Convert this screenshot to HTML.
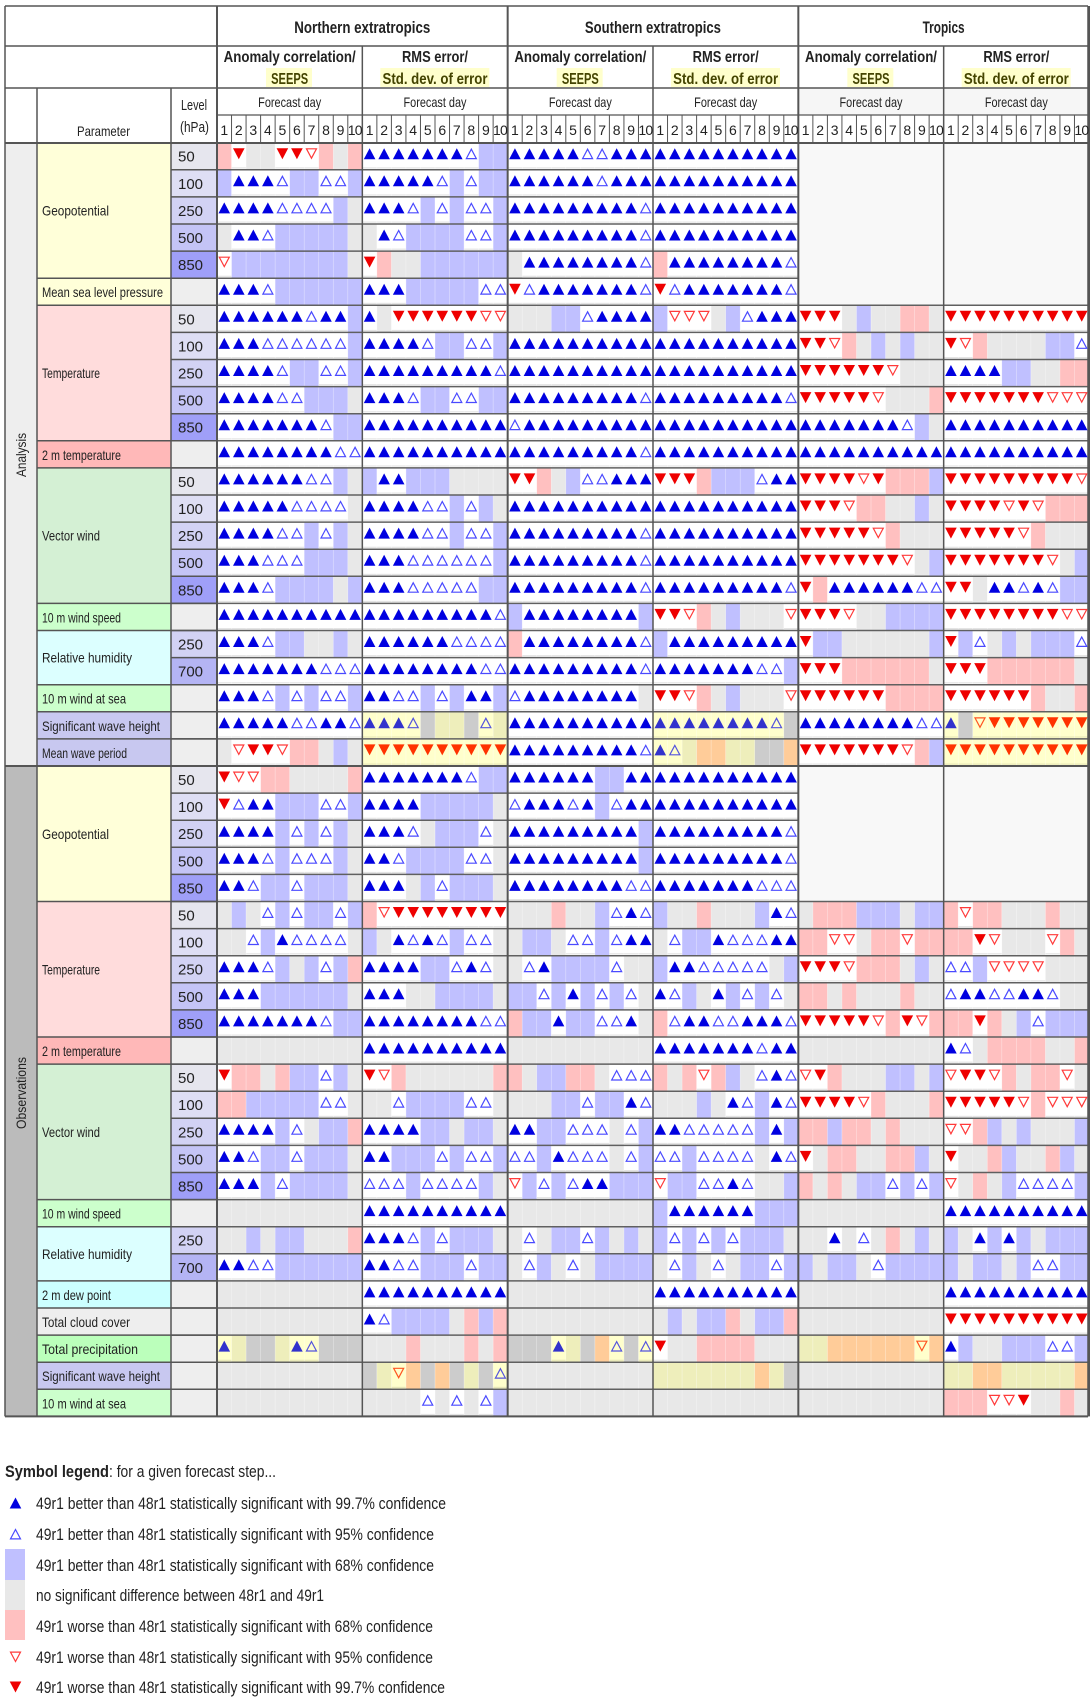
<!DOCTYPE html>
<html><head><meta charset="utf-8"><style>
html,body{margin:0;padding:0;background:#fff;}
svg{display:block;font-family:"Liberation Sans",sans-serif;}
</style></head><body>
<svg id="s" width="1090" height="1698" viewBox="0 0 1090 1698" xmlns="http://www.w3.org/2000/svg">
<g id="bg"></g>
<g id="lines"></g>
<g id="tri"></g>
<g id="txt" fill="#222">
<!-- region titles -->
<text x="362.3" y="33" font-size="17" font-weight="bold" text-anchor="middle" textLength="136" lengthAdjust="spacingAndGlyphs">Northern extratropics</text>
<text x="652.9" y="33" font-size="17" font-weight="bold" text-anchor="middle" textLength="136" lengthAdjust="spacingAndGlyphs">Southern extratropics</text>
<text x="943.6" y="33" font-size="17" font-weight="bold" text-anchor="middle" textLength="42" lengthAdjust="spacingAndGlyphs">Tropics</text>
<!-- block headers -->
<g id="bh0" transform="translate(217,0)">
<text x="72.67" y="62" font-size="16" font-weight="bold" text-anchor="middle" textLength="132" lengthAdjust="spacingAndGlyphs">Anomaly correlation/</text>
<text x="72.67" y="84" font-size="16" font-weight="bold" text-anchor="middle" fill="#444400" textLength="37" lengthAdjust="spacingAndGlyphs">SEEPS</text>
<text x="72.67" y="107" font-size="14" text-anchor="middle" textLength="63" lengthAdjust="spacingAndGlyphs">Forecast day</text>
<text x="7.27 21.8 36.33 50.87 65.4 79.93 94.47 109 123.53 134.6 141.6" y="135" font-size="14" text-anchor="middle">12345678910</text>
</g>
<g transform="translate(362.33,0)">
<text x="72.67" y="62" font-size="16" font-weight="bold" text-anchor="middle" textLength="66" lengthAdjust="spacingAndGlyphs">RMS error/</text>
<text x="72.67" y="84" font-size="16" font-weight="bold" text-anchor="middle" fill="#444400" textLength="105" lengthAdjust="spacingAndGlyphs">Std. dev. of error</text>
<text x="72.67" y="107" font-size="14" text-anchor="middle" textLength="63" lengthAdjust="spacingAndGlyphs">Forecast day</text>
<text x="7.27 21.8 36.33 50.87 65.4 79.93 94.47 109 123.53 134.6 141.6" y="135" font-size="14" text-anchor="middle">12345678910</text>
</g>
<g transform="translate(507.67,0)">
<text x="72.67" y="62" font-size="16" font-weight="bold" text-anchor="middle" textLength="132" lengthAdjust="spacingAndGlyphs">Anomaly correlation/</text>
<text x="72.67" y="84" font-size="16" font-weight="bold" text-anchor="middle" fill="#444400" textLength="37" lengthAdjust="spacingAndGlyphs">SEEPS</text>
<text x="72.67" y="107" font-size="14" text-anchor="middle" textLength="63" lengthAdjust="spacingAndGlyphs">Forecast day</text>
<text x="7.27 21.8 36.33 50.87 65.4 79.93 94.47 109 123.53 134.6 141.6" y="135" font-size="14" text-anchor="middle">12345678910</text>
</g>
<g transform="translate(653,0)">
<text x="72.67" y="62" font-size="16" font-weight="bold" text-anchor="middle" textLength="66" lengthAdjust="spacingAndGlyphs">RMS error/</text>
<text x="72.67" y="84" font-size="16" font-weight="bold" text-anchor="middle" fill="#444400" textLength="105" lengthAdjust="spacingAndGlyphs">Std. dev. of error</text>
<text x="72.67" y="107" font-size="14" text-anchor="middle" textLength="63" lengthAdjust="spacingAndGlyphs">Forecast day</text>
<text x="7.27 21.8 36.33 50.87 65.4 79.93 94.47 109 123.53 134.6 141.6" y="135" font-size="14" text-anchor="middle">12345678910</text>
</g>
<g transform="translate(798.33,0)">
<text x="72.67" y="62" font-size="16" font-weight="bold" text-anchor="middle" textLength="132" lengthAdjust="spacingAndGlyphs">Anomaly correlation/</text>
<text x="72.67" y="84" font-size="16" font-weight="bold" text-anchor="middle" fill="#444400" textLength="37" lengthAdjust="spacingAndGlyphs">SEEPS</text>
<text x="72.67" y="107" font-size="14" text-anchor="middle" textLength="63" lengthAdjust="spacingAndGlyphs">Forecast day</text>
<text x="7.27 21.8 36.33 50.87 65.4 79.93 94.47 109 123.53 134.6 141.6" y="135" font-size="14" text-anchor="middle">12345678910</text>
</g>
<g transform="translate(943.67,0)">
<text x="72.67" y="62" font-size="16" font-weight="bold" text-anchor="middle" textLength="66" lengthAdjust="spacingAndGlyphs">RMS error/</text>
<text x="72.67" y="84" font-size="16" font-weight="bold" text-anchor="middle" fill="#444400" textLength="105" lengthAdjust="spacingAndGlyphs">Std. dev. of error</text>
<text x="72.67" y="107" font-size="14" text-anchor="middle" textLength="63" lengthAdjust="spacingAndGlyphs">Forecast day</text>
<text x="7.27 21.8 36.33 50.87 65.4 79.93 94.47 109 123.53 134.6 141.6" y="135" font-size="14" text-anchor="middle">12345678910</text>
</g>
<!-- left header -->
<text x="77" y="136" font-size="14" textLength="53" lengthAdjust="spacingAndGlyphs">Parameter</text>
<text x="181" y="110" font-size="15" textLength="26" lengthAdjust="spacingAndGlyphs">Level</text>
<text x="180" y="132" font-size="15" textLength="29" lengthAdjust="spacingAndGlyphs">(hPa)</text>
<!-- side labels -->
<text transform="translate(26,455) rotate(-90)" font-size="14" text-anchor="middle" textLength="44" lengthAdjust="spacingAndGlyphs">Analysis</text>
<text transform="translate(26,1093) rotate(-90)" font-size="14" text-anchor="middle" textLength="72" lengthAdjust="spacingAndGlyphs">Observations</text>
<!-- params -->
<g font-size="14">
<text x="42" y="215.5" textLength="67" lengthAdjust="spacingAndGlyphs">Geopotential</text>
<text x="42" y="297.2" textLength="121" lengthAdjust="spacingAndGlyphs">Mean sea level pressure</text>
<text x="42" y="378" textLength="58" lengthAdjust="spacingAndGlyphs">Temperature</text>
<text x="42" y="459.8" textLength="79" lengthAdjust="spacingAndGlyphs">2 m temperature</text>
<text x="42" y="540.7" textLength="58" lengthAdjust="spacingAndGlyphs">Vector wind</text>
<text x="42" y="622.4" textLength="79" lengthAdjust="spacingAndGlyphs">10 m wind speed</text>
<text x="42" y="662.6" textLength="90" lengthAdjust="spacingAndGlyphs">Relative humidity</text>
<text x="42" y="703.7" textLength="84" lengthAdjust="spacingAndGlyphs">10 m wind at sea</text>
<text x="42" y="730.8" textLength="118" lengthAdjust="spacingAndGlyphs">Significant wave height</text>
<text x="42" y="757.9" textLength="85" lengthAdjust="spacingAndGlyphs">Mean wave period</text>
<text x="42" y="838.8" textLength="67" lengthAdjust="spacingAndGlyphs">Geopotential</text>
<text x="42" y="974.3" textLength="58" lengthAdjust="spacingAndGlyphs">Temperature</text>
<text x="42" y="1056" textLength="79" lengthAdjust="spacingAndGlyphs">2 m temperature</text>
<text x="42" y="1136.9" textLength="58" lengthAdjust="spacingAndGlyphs">Vector wind</text>
<text x="42" y="1218.6" textLength="79" lengthAdjust="spacingAndGlyphs">10 m wind speed</text>
<text x="42" y="1258.8" textLength="90" lengthAdjust="spacingAndGlyphs">Relative humidity</text>
<text x="42" y="1299.9" textLength="69" lengthAdjust="spacingAndGlyphs">2 m dew point</text>
<text x="42" y="1327" textLength="88" lengthAdjust="spacingAndGlyphs">Total cloud cover</text>
<text x="42" y="1354.1" textLength="96" lengthAdjust="spacingAndGlyphs">Total precipitation</text>
<text x="42" y="1381.2" textLength="118" lengthAdjust="spacingAndGlyphs">Significant wave height</text>
<text x="42" y="1408.3" textLength="84" lengthAdjust="spacingAndGlyphs">10 m wind at sea</text>
</g>
<!-- levels -->
<g font-size="15">
<text x="178" y="161.7">50</text><text x="178" y="188.8">100</text><text x="178" y="215.9">250</text><text x="178" y="243">500</text><text x="178" y="270.1">850</text>
<text x="178" y="324.3">50</text><text x="178" y="351.4">100</text><text x="178" y="378.5">250</text><text x="178" y="405.6">500</text><text x="178" y="432.7">850</text>
<text x="178" y="486.9">50</text><text x="178" y="514">100</text><text x="178" y="541.1">250</text><text x="178" y="568.2">500</text><text x="178" y="595.3">850</text>
<text x="178" y="649.5">250</text><text x="178" y="676.6">700</text>
<text x="178" y="785">50</text><text x="178" y="812.1">100</text><text x="178" y="839.2">250</text><text x="178" y="866.3">500</text><text x="178" y="893.4">850</text>
<text x="178" y="920.5">50</text><text x="178" y="947.6">100</text><text x="178" y="974.7">250</text><text x="178" y="1001.8">500</text><text x="178" y="1028.9">850</text>
<text x="178" y="1083.1">50</text><text x="178" y="1110.2">100</text><text x="178" y="1137.3">250</text><text x="178" y="1164.4">500</text><text x="178" y="1191.5">850</text>
<text x="178" y="1245.7">250</text><text x="178" y="1272.8">700</text>
</g>
<!-- legend -->
<g font-size="17">
<text x="5" y="1477" font-weight="bold" textLength="104" lengthAdjust="spacingAndGlyphs">Symbol legend</text>
<text x="109" y="1477" textLength="167" lengthAdjust="spacingAndGlyphs">: for a given forecast step...</text>
<text x="36" y="1509" textLength="410" lengthAdjust="spacingAndGlyphs">49r1 better than 48r1 statistically significant with 99.7% confidence</text>
<text x="36" y="1540" textLength="398" lengthAdjust="spacingAndGlyphs">49r1 better than 48r1 statistically significant with 95% confidence</text>
<text x="36" y="1571" textLength="398" lengthAdjust="spacingAndGlyphs">49r1 better than 48r1 statistically significant with 68% confidence</text>
<text x="36" y="1601" textLength="288" lengthAdjust="spacingAndGlyphs">no significant difference between 48r1 and 49r1</text>
<text x="36" y="1632" textLength="397" lengthAdjust="spacingAndGlyphs">49r1 worse than 48r1 statistically significant with 68% confidence</text>
<text x="36" y="1663" textLength="397" lengthAdjust="spacingAndGlyphs">49r1 worse than 48r1 statistically significant with 95% confidence</text>
<text x="36" y="1693" textLength="409" lengthAdjust="spacingAndGlyphs">49r1 worse than 48r1 statistically significant with 99.7% confidence</text>
</g>
</g>
</svg>
<script>
(function(){
var NS="http://www.w3.org/2000/svg";
var bg=document.getElementById("bg"),ln=document.getElementById("lines"),tr=document.getElementById("tri");
function el(p,t,a){var e=document.createElementNS(NS,t);for(var k in a)e.setAttribute(k,a[k]);p.appendChild(e);return e;}
function rect(x,y,w,h,f){el(bg,"rect",{x:x,y:y,width:w,height:h,fill:f});}
function line(x1,y1,x2,y2,w,c){el(ln,"line",{x1:x1,y1:y1,x2:x2,y2:y2,stroke:c||"#555","stroke-width":w||1.5});}
var X0=217,BW=145.333,CW=BW/10,Y0=142.7,RH=27.1;
function T(i){return Y0+RH*i;}
var D=[
"rVggVVvrgr AAAAAAAabb AAAAAaaAAA AAAAAAAAAA x x",
"bAAAabbaab AAAAAababb AAAAAAaAAA AAAAAAAAAA x x",
"AAAAaaaabg AAAababaab AAAAAAAAAa AAAAAAAAAA x x",
"gAAabbbbbg gAabbbbaab AAAAAAAAAa AAAAAAAAAA x x",
"vbbbbbbbbg Vrggbbbbbb gAAAAAAAAa rAAAAAAAAa x x",
"AAAabbbbbb AAAbbbbbaa VaAAAAAAAa VaAAAAAAAa x x",
"AAAAAAaAAb AgVVVVVVvv gggbbaAAAA bvvvgbaAAA VVVgbggrrg VVVVVVVVVV",
"AAAaaaaaab AAAAabbaab AAAAAAAAAA AAAAAAAAAA VVvrgbgbgg Vvrggggbba",
"AAAAabbaab AAAAAAAAAa AAAAAAAAAA AAAAAAAAAA VVVVVVvggg AAAAbbggrr",
"AAAAaabbbg AAAabbaabb AAAAAAAAAa AAAAAAAAAa VVVVVvgggr VVVVVVVvvv",
"AAAAAAAabb AAAAAAAAAA aAAAAAAAAA AAAAAAAAAA AAAAAAAabg AAAAAAAAAA",
"AAAAAAAAaa AAAAAAAAAA AAAAAAAAAa AAAAAAAAAA AAAAAAAAAA AAAAAAAAAA",
"AAAAAAaabg bAAbbbgggg VVrgbaaAAA VVVrbbbaAA VVVVvVrrrb VVVVVVVVVv",
"AAAAAaaaag AAAAaababg AAAAAAAAAA AAAAAAAAAA VVVvrrggbg VVVVvVvrrr",
"AAAAaababg AAAAaabaab AAAAAAAAAa AAAAAAAAAA VVVVVvrggg VVVVVvrggg",
"AAAaaabbbg AAAaaaaaab AAAAAAAAAa AAAAAAAAAA VVVVVVVvgb VVVVVVVvgb",
"AAAabbbbgb AAAaaaaabb AAAAAAAAAa AAAAAAAAAa VrAAAAAAaa VVgAAaAabb",
"AAAAAAAAAA AAAAAAAAAa bAAAAAAAAb VVvrgbgggv VVVvggbbbb VVVVVVVVvv",
"AAAabbggbg AAAAAAaaaa rAAAAAAAAa bAAAAAAAAA Vbbggggggb Vbagbgbbba",
"AAAAAAAaaa AAAAAAAAaa AAAAAAAAAa AAAAAAAaab VVVrrrrrrg VVVrrrrrrg",
"AAAababaab AAaababAAb aAAAAAAAAg VVvrgbgggv VVVVVVrrrr VVVVVVrggr",
"AAAAAaaAAa AAAagbbgab AAAAAAAAAA AAAAAAAAag AAAAAAAAaa AgvVVVVVVV",
"gvVVvrrgbg VVVVVVVVVV AAAAAAAAAa Aabrrbbggr VVVVVVVvrb VVVVVVVVVV",
"Vvvrrggggr AAAAAAAabb AAAAAAbbAA AAAAAAAAAA x x",
"VaAAbbbaab AAAAbbbbbg aAAAaAbaAA AAAAAAAAAA x x",
"AAAAbababg AAAagbbbag AAAAAAAAAb AAAAAAAAAa x x",
"AAAabaaabg AAabbbbaag AAAAAAAAAb AAAAAAAAAa x x",
"AAabbabbbg AAAgbabbbg AAAAAAAAaa AAAAAAAaaa x x",
"gbgababbab rvVVVVVVVV gggrggbaAa bggrgggbAa grrrbbbgbb rvrrgggrgg",
"ggabAaaaag bgAaAabaag gbbgaabaAA gabbAaaaAA rrvvgrrvrr rrVvgggvrg",
"AAAabgbabr AAAAbbaAag gaAbbbbagg bAAaaaaagb VVVvrrrgbg aabvvvvggg",
"AAAbbbbbbg AAAggbbbbg bbabAbabag AabgAbabag rrgrgggrgg aAAaaAAagg",
"AAAAAAAabb AAAAAAAAaa rbbAbbaaAg raAAaaAAAa VVVVVvrVvr rrVrgbabbb",
"gggggggggg AAAAAAAAAA gggggggggg AAAAAAAaAA gggggggggg Aagrrrrggr",
"Vrrgrbbabg Vvrggggggr rgbbrrgaaa rgrvrbgaAa vVrgggbbgb vVVvrgrrvg",
"rrbbbbbaag ggabbbbaag gggbbabbAa gggbgAabAa VVVVvrgggr VVVVVvrvvv",
"AAAAbagbbr AAAAbbgbbg AAbbaaagab AAaaaaabAb rrbrrgrggg vvrbgbgggb",
"AAabbabbbg AAbbbabaab aabAaaagab aabaaaagAa Vgrrggrrbg Vggrbggrbg",
"AAAbabbbbg aaabaaaabg vbabaAAbbb vbbaaAaggb rgrgbbabab vgrgbaaaab",
"gggggggggg AAAAAAAAAA gggggggggg bAAAAAAbbb gggggggggg AAAAAAAAAA",
"ggbgbbgggr AAAababbbg gagbbabgbg babababbbg ggAgagrgbg bgAbAbgbbb",
"AAaabbbbbb AAaabbbabb gabgagbbbb gabgagbbab bgbbgabbbb bgbbgbaabb",
"gggggggggg AAAAAAAAAA gggggggggg AAAAAAAAAA gggggggggg AAAAAAAAAA",
"gggggggggg Aabbbbgrbr gggggggggg gbgbbrgbbr gggggggggg VVVVVVVVVV",
"AbggbAaggg gggrgggrgr gggAbgraga Vggrrrrggg bbrrrrrrvr Abggbbbaab",
"gggggggggg gbvrgrgbga gggggggggg bbbbbbbrbg gggggggggg bbrrbbbbbr",
"gggggggggg ggggagagab gggggggggg gggggggggg gggggggggg rrrvvVggrg"
];
var YEL={21:[1,3,5],22:[1,3,5],45:[1,3,5],44:[0,2,4]};
var PN={w:"#ffffff",b:"#c0c0ff",g:"#e8e8e8",r:"#ffc0c0",A:"#0000e0",a:"#4a4aff",V:"#ee0000",v:"#ff3a3a"};
var PY={w:"#ffffcc",b:"#eeeebb",g:"#cccccc",r:"#ffcc99",A:"#3333cc",a:"#5555dd",V:"#ff3300",v:"#ff5522"};
function triangle(cx,top,c,pal){
  var up=(c=="A"||c=="a"),fill=(c=="A"||c=="V");
  var y1=top+5.5,y2=top+16.5,h=5.8;
  var pts=up?[[cx-h,y2],[cx+h,y2],[cx,y1]]:[[cx-h,y1],[cx+h,y1],[cx,y2]];
  if(!fill){var k=0.8;pts=up?[[cx-h+k,y2-0.6],[cx+h-k,y2-0.6],[cx,y1+1]]:[[cx-h+k,y1+0.6],[cx+h-k,y1+0.6],[cx,y2-1]];}
  var s=pts.map(function(p){return p[0].toFixed(2)+","+p[1].toFixed(2);}).join(" ");
  el(tr,"polygon",fill?{points:s,fill:pal[c]}:{points:s,fill:"none",stroke:pal[c],"stroke-width":1.2});
}
// header fills
rect(5,6,1083,137,"#ffffff");
rect(798.33,88,290,27,"#f6f6f6");
for(var b=0;b<6;b++){
  var bx=X0+b*BW;
  if(b%2==0) rect(bx+49,68,46,19,"#ffffcc"); else rect(bx+18,68,109,19,"#ffffcc");
}
// data cells
for(var i=0;i<D.length;i++){
  var parts=D[i].split(" ");
  for(var b=0;b<6;b++){
    var s=parts[b];if(s=="x")continue;
    var yl=YEL[i]&&YEL[i].indexOf(b)>=0,pal=yl?PY:PN;
    for(var j=0;j<10;j++){
      var c=s[j],x=X0+b*BW+j*CW,y=T(i);
      var isT="AaVv".indexOf(c)>=0;
      rect(x,y,CW+0.4,RH,pal[isT?"w":c]);
      if(isT){ triangle(x+CW/2,y,c,pal); rect(x,y+RH-2.5,CW+0.4,1.2,yl?"#e8e8b8":"#e4e4e4"); }
    }
  }
}
// faint cell separators
for(var b=0;b<6;b++)for(var j=1;j<10;j++){var x=X0+b*BW+j*CW;el(bg,"line",{x1:x,y1:Y0,x2:x,y2:T(47),stroke:"#ffffff","stroke-width":0.6,"stroke-opacity":0.5});}
// tropics blank
rect(798.33,T(0)+0.8,290,RH*6-1.6,"#f8f8f8");
rect(798.33,T(23)+0.8,290,RH*5-1.6,"#f8f8f8");
// left column fills
rect(5,143,32,T(23)-143,"#eeeeee");
rect(5,T(23),32,T(47)-T(23),"#bbbbbb");
var G=[[0,5,"#ffffd9"],[5,1,"#ffffd9"],[6,5,"#ffdcdc"],[11,1,"#ffb8b8"],[12,5,"#d4f0d4"],[17,1,"#ccffcc"],[18,2,"#dcffff"],[20,1,"#ccffcc"],[21,1,"#c8c8f0"],[22,1,"#c8c8f0"],
[23,5,"#ffffd9"],[28,5,"#ffdcdc"],[33,1,"#ffb8b8"],[34,5,"#d4f0d4"],[39,1,"#ccffcc"],[40,2,"#dcffff"],[42,1,"#ccffff"],[43,1,"#eeeeee"],[44,1,"#bbffbb"],[45,1,"#c8c8f0"],[46,1,"#ccffcc"]];
var LV={50:"#e6e6ee",100:"#dedef4",250:"#d2d2f4",500:"#c4c4f6",850:"#9f9ff8",700:"#b4b4f4"};
var L5=[50,100,250,500,850];
G.forEach(function(g){
  rect(37,T(g[0]),134,RH*g[1],g[2]);
  for(var k=0;k<g[1];k++){
    var lv=g[1]==5?L5[k]:(g[1]==2?[250,700][k]:null);
    rect(171,T(g[0]+k),46,RH,lv?LV[lv]:"#eeeeee");
  }
  line(37,T(g[0]),217,T(g[0]));
});
for(var i=0;i<47;i++){line(171,T(i),217,T(i));}
// row lines data
for(var i=0;i<=47;i++){
  var skipTr=(i>=1&&i<=5)||(i>=24&&i<=27);
  line(X0,T(i),skipTr?798.33:1088,T(i),1.5,"#606060");
}
line(5,T(23),1088,T(23),2,"#555");
// header lines
line(5,6,1088,6);line(5,46,1088,46);line(5,88,1088,88);line(217,115,1088,115,1.2);line(5,143,1088,143,2);
line(5,6,5,T(47));line(1088,6,1088,T(47));
line(37,88,37,T(47));line(171,88,171,T(47));
for(var b=0;b<=6;b++){var x=X0+b*BW;line(x,(b%2==0)?6:46,x,T(47),(b%2==0)?2:1.5);}
for(var b=0;b<6;b++)for(var j=1;j<10;j++){var x=X0+b*BW+j*CW;line(x,115,x,143,1);}
line(5,T(47),1088,T(47),2);
// legend icons
triangle(15.5,1503-11,"A",PN);
triangle(15.5,1534-11,"a",PN);
rect(5,1549,20,31,"#c0c0ff");
rect(5,1580,20,30,"#e8e8e8");
rect(5,1610,20,30,"#ffc0c0");
triangle(15.5,1657-11,"v",PN);
triangle(15.5,1687-11,"V",PN);
})();
</script>
</body></html>
